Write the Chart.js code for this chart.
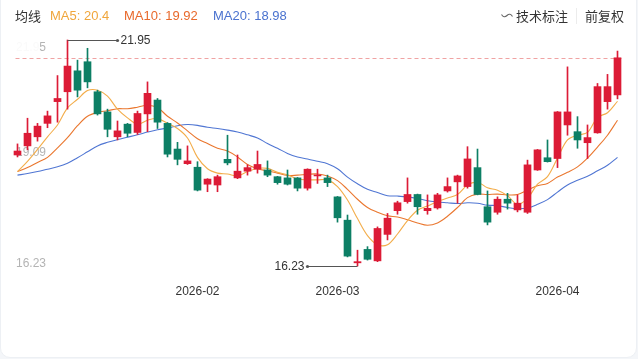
<!DOCTYPE html>
<html><head><meta charset="utf-8">
<script src="https://cdn.jsdelivr.net/npm/chart.js@4/dist/chart.umd.min.js"></script>
<style>
html,body{margin:0;padding:0;width:638px;height:359px;background:#f4f6f9;overflow:hidden;font-family:"Liberation Sans",Arial,"Noto Sans CJK SC",sans-serif;}
#card{position:absolute;left:0;top:-1px;width:635px;height:357px;background:#fff;border:1px solid #edf0f4;border-radius:0 0 10px 10px;}
#c{position:absolute;left:0;top:0;}
.hdr{position:absolute;top:7px;font-size:13px;line-height:18px;white-space:nowrap;}
.cjk{font-family:"Noto Sans CJK SC",sans-serif;color:#333;}
#sep{position:absolute;left:576px;top:8px;width:1px;height:16px;background:#ececec;}
</style></head><body>
<div id="card"></div>
<canvas id="c" width="638" height="310"></canvas>
<div class="hdr cjk" style="left:15px;">均线</div>
<div class="hdr" id="t5" style="left:50px;color:#f0a63c"></div>
<div class="hdr" id="t10" style="left:124px;color:#e8692b"></div>
<div class="hdr" id="t20" style="left:213px;color:#4a72cf"></div>
<svg style="position:absolute;left:501px;top:12px" width="12" height="8" viewBox="0 0 12 8"><path d="M0.5 2.5 Q3 6.5 6 3.5 Q9 0.5 11.5 4.5" fill="none" stroke="#666" stroke-width="1.1"/></svg>
<div class="hdr cjk" style="left:516px;">技术标注</div>
<div id="sep"></div>
<div class="hdr cjk" style="left:585px;">前复权</div>
<script>
const categories = ['2026-01-07','2026-01-08','2026-01-09','2026-01-12','2026-01-13','2026-01-14','2026-01-15','2026-01-16','2026-01-19','2026-01-20',
'2026-01-21','2026-01-22','2026-01-23','2026-01-26','2026-01-27','2026-01-28','2026-01-29','2026-01-30','2026-02-02','2026-02-03',
'2026-02-04','2026-02-05','2026-02-06','2026-02-09','2026-02-10','2026-02-11','2026-02-12','2026-02-13','2026-02-24','2026-02-25',
'2026-02-26','2026-02-27','2026-03-02','2026-03-03','2026-03-04','2026-03-05','2026-03-06','2026-03-09','2026-03-10','2026-03-11',
'2026-03-12','2026-03-13','2026-03-16','2026-03-17','2026-03-18','2026-03-19','2026-03-20','2026-03-23','2026-03-24','2026-03-25',
'2026-03-26','2026-03-27','2026-03-30','2026-03-31','2026-04-01','2026-04-02','2026-04-03','2026-04-07','2026-04-08','2026-04-09',
'2026-04-10'];
const opens = [19.04,19.27,19.50,19.84,20.39,20.64,21.17,21.40,20.64,20.13,
19.50,19.82,19.61,20.08,20.43,19.84,19.19,18.82,18.73,18.30,
18.28,18.93,18.46,18.63,18.68,18.66,18.49,18.46,18.46,18.20,
18.51,18.46,17.98,17.39,16.31,16.65,16.36,17.03,17.63,17.86,
18.04,17.63,17.70,18.13,18.36,18.24,18.72,17.73,17.59,17.92,
17.65,17.59,18.66,18.97,18.95,19.80,19.63,19.35,19.60,20.39,
20.56];
const closes = [19.14,19.59,19.77,20.03,20.47,21.29,20.68,20.89,20.08,19.69,
19.65,19.59,20.09,20.60,19.87,19.06,18.93,18.89,18.15,18.43,
18.49,18.84,18.63,18.72,18.80,18.53,18.34,18.30,18.20,18.68,
18.53,18.34,17.45,16.48,16.34,16.40,17.18,17.44,17.83,18.04,
17.73,17.69,18.03,18.24,18.51,18.94,18.04,17.34,17.92,17.82,
17.82,18.79,19.17,18.87,20.13,20.13,19.42,19.48,20.77,20.77,
21.50];
const highs = [19.32,19.97,19.84,20.15,21.05,21.95,21.44,21.74,20.68,20.20,
19.90,19.84,20.15,20.89,20.47,19.86,19.36,19.27,18.87,18.44,
18.53,19.54,19.04,18.79,19.14,18.89,18.50,18.66,18.47,18.69,
18.68,18.53,17.99,17.52,16.63,16.72,17.22,17.56,17.87,18.46,
18.05,18.03,18.07,18.46,18.53,19.25,19.19,18.13,17.98,18.07,
18.03,18.91,19.18,19.42,20.14,21.27,20.01,19.80,20.85,21.08,
21.67];
const lows = [18.99,19.17,19.39,19.73,19.87,20.20,20.51,20.74,20.05,19.50,
19.42,19.50,19.56,19.63,19.71,18.99,18.79,18.80,18.13,18.11,
18.11,18.79,18.44,18.53,18.58,18.49,18.30,18.28,18.13,18.15,
18.32,18.24,17.34,16.46,16.23,16.38,16.34,16.89,17.54,17.82,
17.54,17.54,17.67,18.10,17.82,18.20,18.03,17.27,17.54,17.67,
17.60,17.56,18.65,18.86,18.72,19.54,19.21,18.95,19.59,20.20,
20.46];
const ma5 = [18.62,18.88,19.18,19.50,19.80,20.23,20.45,20.67,20.68,20.53,
20.20,19.98,19.82,19.92,19.96,19.84,19.71,19.47,18.98,18.69,
18.58,18.56,18.51,18.62,18.70,18.70,18.60,18.54,18.43,18.41,
18.41,18.41,18.24,17.90,17.43,17.00,16.77,16.77,17.04,17.38,
17.64,17.75,17.86,17.95,18.04,18.28,18.35,18.21,18.15,18.01,
17.79,17.94,18.30,18.49,18.96,19.42,19.54,19.61,19.99,20.11,
20.40];
const ma10 = [18.62,18.72,18.85,18.98,19.22,19.48,19.78,20.02,20.12,20.16,
20.21,20.21,20.25,20.30,20.24,20.02,19.85,19.65,19.45,19.33,
19.21,19.14,18.99,18.80,18.69,18.64,18.58,18.52,18.53,18.55,
18.56,18.51,18.39,18.17,17.92,17.71,17.59,17.50,17.47,17.40,
17.32,17.26,17.32,17.49,17.71,17.96,18.05,18.04,18.05,18.03,
18.04,18.15,18.26,18.32,18.48,18.60,18.74,18.96,19.24,19.54,
19.92];
const ma20 = [18.53,18.57,18.62,18.68,18.74,18.83,18.97,19.12,19.27,19.36,
19.43,19.49,19.55,19.62,19.68,19.72,19.78,19.81,19.79,19.74,
19.71,19.67,19.62,19.55,19.47,19.33,19.21,19.08,18.99,18.94,
18.88,18.82,18.69,18.48,18.31,18.17,18.09,18.01,18.00,17.98,
17.94,17.88,17.85,17.83,17.81,17.83,17.82,17.77,17.76,17.71,
17.68,17.70,17.79,17.91,18.10,18.28,18.40,18.50,18.64,18.78,
18.98];
const yTickLabels = [16.23, 19.09, 21.95];
const xTickLabels = ['2026-02', '2026-03', '2026-04'];

const fmt = v => String(+v.toFixed(2));
document.getElementById('t5').textContent = 'MA5: ' + fmt(ma5[ma5.length-1]);
document.getElementById('t10').textContent = 'MA10: ' + fmt(ma10[ma10.length-1]);
document.getElementById('t20').textContent = 'MA20: ' + fmt(ma20[ma20.length-1]);

const RED = '#dc1b36', GREEN = '#0d7f65';
const colors = closes.map((c, i) => c >= opens[i] ? RED : GREEN);

Chart.defaults.font.family = '"Liberation Sans", Arial, sans-serif';

const overlay = {
  id: 'overlay',
  beforeDatasetsDraw(chart) {
    const {ctx, chartArea, scales: {x, y}} = chart;
    ctx.save();
    ctx.font = '12px "Liberation Sans", Arial, sans-serif';
    ctx.fillStyle = '#b4b4b4';
    ctx.textAlign = 'left';
    yTickLabels.forEach((v, k) => {
      const py = y.getPixelForValue(v);
      ctx.textBaseline = k === 0 ? 'alphabetic' : (k === yTickLabels.length - 1 ? 'top' : 'middle');
      ctx.fillText(v.toFixed(2), chartArea.left + 3.5, k === 0 ? py + 1 : (k === yTickLabels.length - 1 ? py + 2 : py));
    });
    // faded cover over top label
    const pt = y.getPixelForValue(yTickLabels[yTickLabels.length - 1]);
    ctx.fillStyle = 'rgba(255,255,255,0.93)';
    ctx.fillRect(chartArea.left + 2, pt, 25, 14);
    // dashed last-close line
    const py = Math.round(y.getPixelForValue(closes[closes.length - 1])) + 0.5;
    ctx.strokeStyle = '#f0a3a3';
    ctx.lineWidth = 1;
    ctx.setLineDash([4, 3]);
    ctx.beginPath();
    ctx.moveTo(chartArea.left + 3, py);
    ctx.lineTo(chartArea.right, py);
    ctx.stroke();
    ctx.restore();
  },
  afterDatasetsDraw(chart) {
    const {ctx, scales: {x, y}} = chart;
    let hi = 0, lo = 0;
    highs.forEach((h, i) => { if (h > highs[hi]) hi = i; });
    lows.forEach((l, i) => { if (l < lows[lo]) lo = i; });
    ctx.save();
    ctx.strokeStyle = '#555';
    ctx.fillStyle = '#555';
    ctx.lineWidth = 1;
    ctx.font = '12px "Liberation Sans", Arial, sans-serif';
    ctx.textBaseline = 'middle';
    let px = x.getPixelForValue(hi), py = Math.round(y.getPixelForValue(highs[hi])) + 0.5;
    ctx.beginPath(); ctx.moveTo(px, py); ctx.lineTo(px + 50, py); ctx.stroke();
    ctx.beginPath(); ctx.arc(px + 50, py, 1.6, 0, Math.PI * 2); ctx.fill();
    ctx.fillStyle = '#333'; ctx.textAlign = 'left';
    ctx.fillText(highs[hi].toFixed(2), px + 53, py);
    ctx.fillStyle = '#555';
    px = x.getPixelForValue(lo); py = Math.round(y.getPixelForValue(lows[lo])) + 0.5;
    ctx.beginPath(); ctx.moveTo(px, py); ctx.lineTo(px - 50, py); ctx.stroke();
    ctx.beginPath(); ctx.arc(px - 50, py, 1.6, 0, Math.PI * 2); ctx.fill();
    ctx.fillStyle = '#333'; ctx.textAlign = 'right';
    ctx.fillText(lows[lo].toFixed(2), px - 53, py);
    ctx.restore();
  }
};

new Chart(document.getElementById('c'), {
  type: 'bar',
  data: {
    labels: categories,
    datasets: [
      {label: 'body', data: opens.map((o, i) => [o, closes[i]]), backgroundColor: colors, barThickness: 7, minBarLength: 1, grouped: false, clip: false},
      {label: 'wick', data: lows.map((l, i) => [l, highs[i]]), backgroundColor: colors, barThickness: 1, grouped: false, clip: false},
      {type: 'line', label: 'MA5', data: ma5, borderColor: '#f3ad4a', borderWidth: 1.1, pointRadius: 0, tension: 0.35, clip: false},
      {type: 'line', label: 'MA10', data: ma10, borderColor: '#ea772f', borderWidth: 1.1, pointRadius: 0, tension: 0.35, clip: false},
      {type: 'line', label: 'MA20', data: ma20, borderColor: '#5076d3', borderWidth: 1.1, pointRadius: 0, tension: 0.35, clip: false}
    ]
  },
  options: {
    responsive: false,
    animation: false,
    layout: {padding: {left: 12.5, right: 15.5, top: 40, bottom: 0}},
    plugins: {legend: {display: false}, tooltip: {enabled: false}},
    scales: {
      x: {
        grid: {display: false}, border: {display: false},
        ticks: {
          autoSkip: false, maxRotation: 0, minRotation: 0, padding: 10, color: '#333', font: {size: 12},
          callback: (v, i) => {
            const m = categories[i].slice(0, 7);
            if (i > 0 && categories[i - 1].slice(0, 7) === m) return '';
            return xTickLabels.includes(m) ? m : '';
          }
        },
        afterFit: s => { s.height = 44; }
      },
      y: {display: false, min: yTickLabels[0], max: yTickLabels[yTickLabels.length - 1]}
    }
  },
  plugins: [overlay]
});
</script>
</body></html>
